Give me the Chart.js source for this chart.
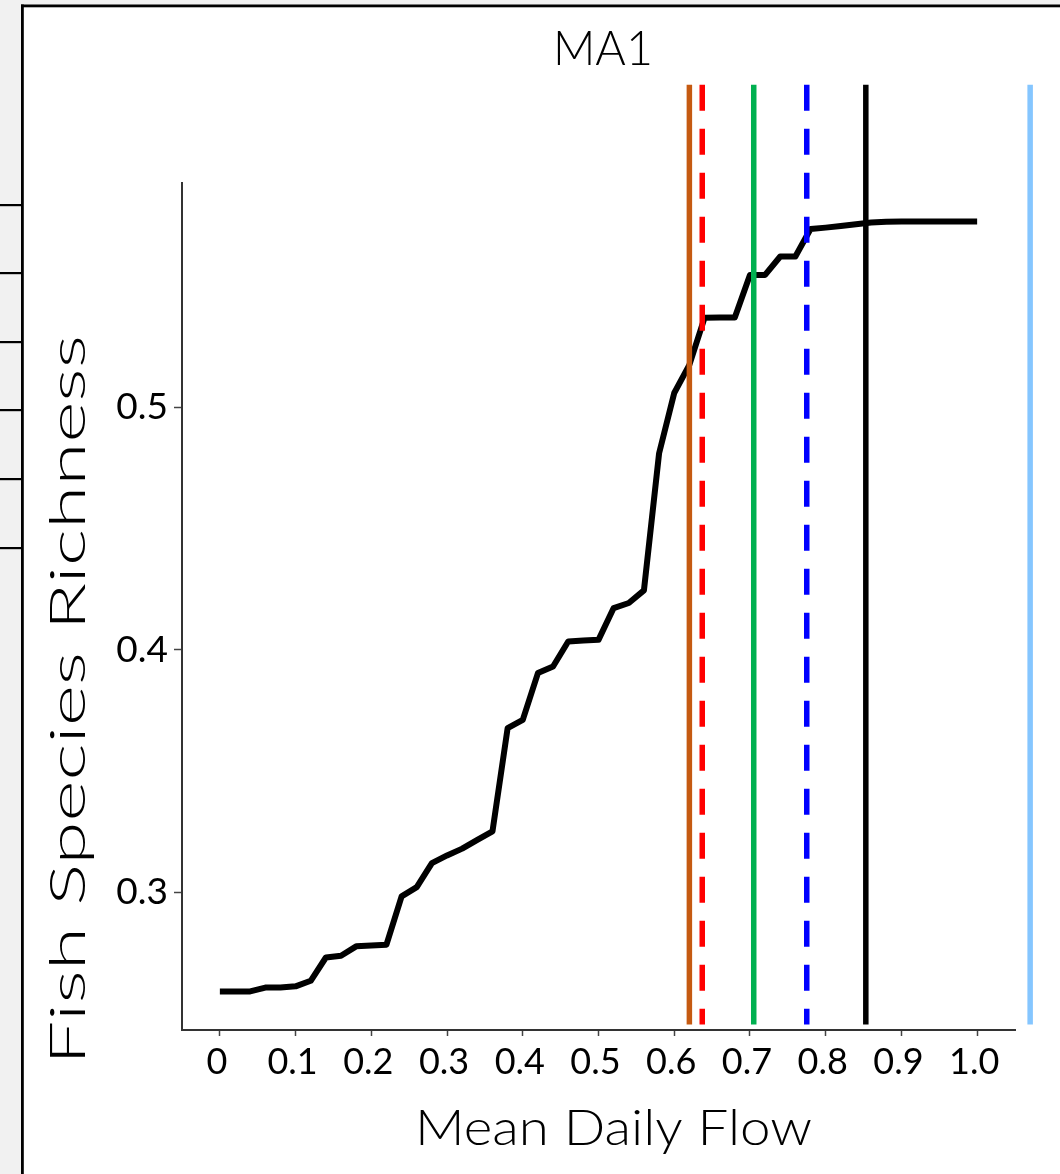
<!DOCTYPE html>
<html>
<head>
<meta charset="utf-8">
<script src="https://cdn.jsdelivr.net/npm/chart.js@4.4.1/dist/chart.umd.min.js"></script>
<style>
  html, body { margin: 0; padding: 0; background: #f1f1f1; }
  canvas { display: block; }
</style>
</head>
<body>
<canvas id="ma1Chart" width="1060" height="1174"></canvas>
<script>
// flow values (x) and fish richness (y)
const flow = [0, 0.02, 0.04, 0.06, 0.08, 0.10, 0.12, 0.14, 0.16, 0.18,
              0.20, 0.22, 0.24, 0.26, 0.28, 0.30, 0.32, 0.34, 0.36, 0.38,
              0.40, 0.42, 0.44, 0.46, 0.48, 0.50, 0.52, 0.54, 0.56, 0.58,
              0.60, 0.62, 0.64, 0.66, 0.68, 0.70, 0.72, 0.74, 0.76, 0.78,
              0.80, 0.82, 0.84, 0.86, 0.88, 0.90, 0.92, 0.94, 0.96, 0.98, 1.00];
const richness = [0.2591, 0.2591, 0.2591, 0.2607, 0.2607, 0.2612, 0.2635, 0.2731, 0.2738, 0.2777,
                  0.2780, 0.2784, 0.2983, 0.3021, 0.3120, 0.3152, 0.3180, 0.3216, 0.3251, 0.3677,
                  0.3711, 0.3904, 0.3931, 0.4034, 0.4038, 0.4041, 0.4172, 0.4193, 0.4245, 0.4810,
                  0.5059, 0.5175, 0.5369, 0.5370, 0.5370, 0.5546, 0.5546, 0.5622, 0.5622, 0.5735,
                  0.5741, 0.5748, 0.5755, 0.5762, 0.5765, 0.5766, 0.5766, 0.5766, 0.5766, 0.5766, 0.5766];

// threshold lines
const markFlow   = [0.620, 0.637, 0.705, 0.775, 0.853, 1.070];
const markColors = ['#c55a11', '#ff0000', '#00b050', '#0000ff', '#000000', '#85c6ff'];
const markDashed = [false, true, false, true, false, false];
const markTop = 0.633;
const markBottom = 0.2455;

const xTicks = [0, 0.1, 0.2, 0.3, 0.4, 0.5, 0.6, 0.7, 0.8, 0.9, 1.0];
const xTickLabels = ['0', '0.1', '0.2', '0.3', '0.4', '0.5', '0.6', '0.7', '0.8', '0.9', '1.0'];
const yTicks = [0.3, 0.4, 0.5];
const yTickLabels = ['0.3', '0.4', '0.5'];

const FONT = 'Lato, "Open Sans", sans-serif';

// frame of the cropped figure (gray strip + panel border)
const framePlugin = {
    id: 'frame',
    beforeDraw(chart) {
        const ctx = chart.ctx;
        ctx.save();
        ctx.fillStyle = '#f1f1f1';
        ctx.fillRect(0, 0, 1060, 1174);
        ctx.fillStyle = '#ffffff';
        ctx.fillRect(22, 6, 1038, 1168);
        ctx.fillStyle = '#000000';
        ctx.fillRect(21, 4.5, 1039, 2.8);
        ctx.fillRect(21, 4.5, 2.8, 1170);
        [205, 273, 342, 410, 479, 548].forEach(y => ctx.fillRect(0, y - 1, 22, 2.2));
        ctx.restore();
    }
};

function fitText(ctx, text, x, y, width, size, rotate) {
    ctx.save();
    ctx.font = '300 ' + size + 'px ' + FONT;
    ctx.fillStyle = '#000';
    ctx.textAlign = 'left';
    ctx.textBaseline = 'alphabetic';
    const w = ctx.measureText(text).width;
    ctx.translate(x, y);
    if (rotate) ctx.rotate(-Math.PI / 2);
    ctx.scale(width / w, 1);
    ctx.fillText(text, 0, 0);
    ctx.restore();
}

const titlesPlugin = {
    id: 'titles',
    afterDraw(chart) {
        const ctx = chart.ctx;
        fitText(ctx, 'MA1', 553, 65, 100, 48, false);
        fitText(ctx, 'Mean Daily Flow', 415, 1145, 397, 50, false);
        fitText(ctx, 'Fish Species Richness', 85, 1065, 730, 50, true);
    }
};

const datasets = markFlow.map((x, i) => ({
    data: [{x: x, y: markTop}, {x: x, y: markBottom}],
    borderColor: markColors[i],
    borderWidth: 5.5,
    borderDash: markDashed[i] ? [26, 18] : [],
    borderCapStyle: 'butt',
    pointRadius: 0,
    clip: false,
    order: 1
}));

datasets.push({
    data: flow.map((x, i) => ({x: x, y: richness[i]})),
    borderColor: '#000000',
    borderWidth: 6,
    borderJoinStyle: 'round',
    pointRadius: 0,
    tension: 0,
    order: 10
});

const ctx = document.getElementById('ma1Chart').getContext('2d');
const myChart = new Chart(ctx, {
    type: 'line',
    data: { datasets: datasets },
    plugins: [framePlugin, titlesPlugin],
    options: {
        responsive: false,
        animation: false,
        layout: { padding: { top: 183, right: 45, left: 0, bottom: 0 } },
        plugins: { legend: { display: false }, tooltip: { enabled: false } },
        scales: {
            x: {
                type: 'linear',
                min: -0.05,
                max: 1.05,
                afterFit(scale) { scale.height = 144; },
                afterBuildTicks(scale) { scale.ticks = xTicks.map(v => ({value: v})); },
                grid: { drawOnChartArea: false, drawTicks: true, tickLength: 6, tickColor: '#444', tickWidth: 1.5 },
                border: { display: true, color: '#333', width: 2 },
                ticks: {
                    autoSkip: false,
                    maxRotation: 0,
                    padding: 5,
                    labelOffset: -3,
                    color: '#000',
                    font: { family: FONT, size: 36, weight: 400 },
                    callback: (v, i) => xTickLabels[i]
                }
            },
            y: {
                type: 'linear',
                min: 0.2432,
                max: 0.5925,
                afterFit(scale) { scale.width = 182; },
                afterBuildTicks(scale) { scale.ticks = yTicks.map(v => ({value: v})); },
                grid: { drawOnChartArea: false, drawTicks: true, tickLength: 8, tickColor: '#444', tickWidth: 1.5 },
                border: { display: true, color: '#333', width: 2 },
                ticks: {
                    padding: 6,
                    color: '#000',
                    font: { family: FONT, size: 37, weight: 400 },
                    callback: (v, i) => yTickLabels[i]
                }
            }
        }
    }
});
</script>
</body>
</html>
